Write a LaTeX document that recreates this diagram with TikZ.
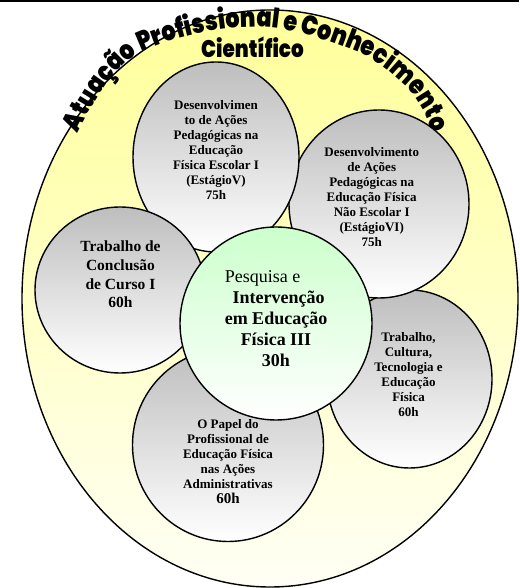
\documentclass[tikz,border=0pt]{standalone}
\usepackage{fontspec}
\setmainfont{Liberation Serif}
\IfFontExistsTF{Poppins Black}
  {\newfontfamily\wordart[FakeStretch=0.83]{Poppins Black}}
  {\IfFontExistsTF{Lato Black}
    {\newfontfamily\wordart[FakeStretch=0.92]{Lato Black}}
    {\newfontfamily\wordart[FakeStretch=0.92]{Liberation Sans Bold}}}
\usepackage{calc}
\usetikzlibrary{shapes.geometric,decorations.text}
\definecolor{yelTop}{RGB}{255,255,153}
\definecolor{yelBot}{RGB}{255,255,245}
\definecolor{grayTop}{RGB}{190,190,190}
\definecolor{greenTop}{RGB}{204,255,204}
\tikzset{
  disc/.style={ellipse, draw=black, line width=1.4pt, inner sep=0pt, top color=grayTop, bottom color=white},
  greendisc/.style={disc, top color=greenTop, bottom color=white},
  outerell/.style={ellipse, draw=black, line width=1.4pt, inner sep=0pt, top color=yelTop, bottom color=yelBot},
  smalltxt/.style={align=center, inner sep=0pt, font=\fontsize{13}{15}\selectfont\bfseries},
  midtxt/.style={align=center, inner sep=0pt, font=\fontsize{15.5}{18.8}\selectfont\bfseries},
  bigtxt/.style={align=center, inner sep=0pt, font=\fontsize{18}{21}\selectfont\bfseries},
  arctxt/.style={inner sep=0pt, font=\wordart\fontsize{24}{24}\selectfont}
}
\begin{document}
\begin{tikzpicture}[x=1pt,y=1pt]
\useasboundingbox (0,0) rectangle (519,588);
\fill[black] (0,585.5) rectangle (519,588);
\node[outerell, minimum width=496pt, minimum height=577pt] (outer) at (270,289.5) {};
% arched title
\path[decorate, decoration={text along path, text align=center,
  text={|\wordart\fontsize{27}{27}\selectfont|Atuação Profissional e Conhecimento}}]
  (62.6,425.2) -- (76,452) .. controls (95,490) and (112,516) .. (137,534)
  .. controls (170,550) and (215,561) .. (255,561)
  .. controls (295,561) and (335,545) .. (365,533)
  .. controls (395,515) and (425,490) .. (432,452) -- (437.4,422.5);
\node[arctxt, anchor=base] (cient) at (252.5,530) {Científico};
% discs
\node[disc, minimum width=165pt, minimum height=178pt] (c5) at (409.5,209) {};
\node[disc, minimum width=180pt, minimum height=188pt] (c2) at (379,384) {};
\node[disc, minimum width=166pt, minimum height=190pt] (c1) at (216,431) {};
\node[disc, minimum width=170pt, minimum height=166pt] (c3) at (120,298) {};
\node[disc, minimum width=191pt, minimum height=193pt] (c6) at (228,143) {};
\node[greendisc, minimum width=192pt, minimum height=193pt] (cg) at (276,264.5) {};
% texts
\node[smalltxt] (t1) at (216,437.5) {Desenvolvimen\\to de Ações\\Pedagógicas na\\Educação\\Física Escolar I\\(EstágioV)\\75h};
\node[smalltxt] (t2) at (371.7,390.6) {Desenvolvimento\\de Ações\\Pedagógicas na\\Educação Física\\Não Escolar I\\(EstágioVI)\\75h};
\node[midtxt] (t3) at (120.5,313.5) {Trabalho de\\Conclusão\\de Curso I\\60h};
\node[bigtxt] (tg) at (276,269) {\makebox[\widthof{em Educação}][l]{\mdseries Pesquisa e}\\\hspace*{0.3em}Intervenção\\em Educação\\Física III\\30h};
\node[smalltxt] (t5) at (408.5,213.8) {Trabalho,\\Cultura,\\Tecnologia e\\Educação\\Física\\60h};
\node[smalltxt] (t6) at (228,126.3) {O Papel do\\Profissional de\\Educação Física\\nas Ações\\Administrativas\\{\fontsize{15}{15}\selectfont 60h}};
\end{tikzpicture}
\end{document}
